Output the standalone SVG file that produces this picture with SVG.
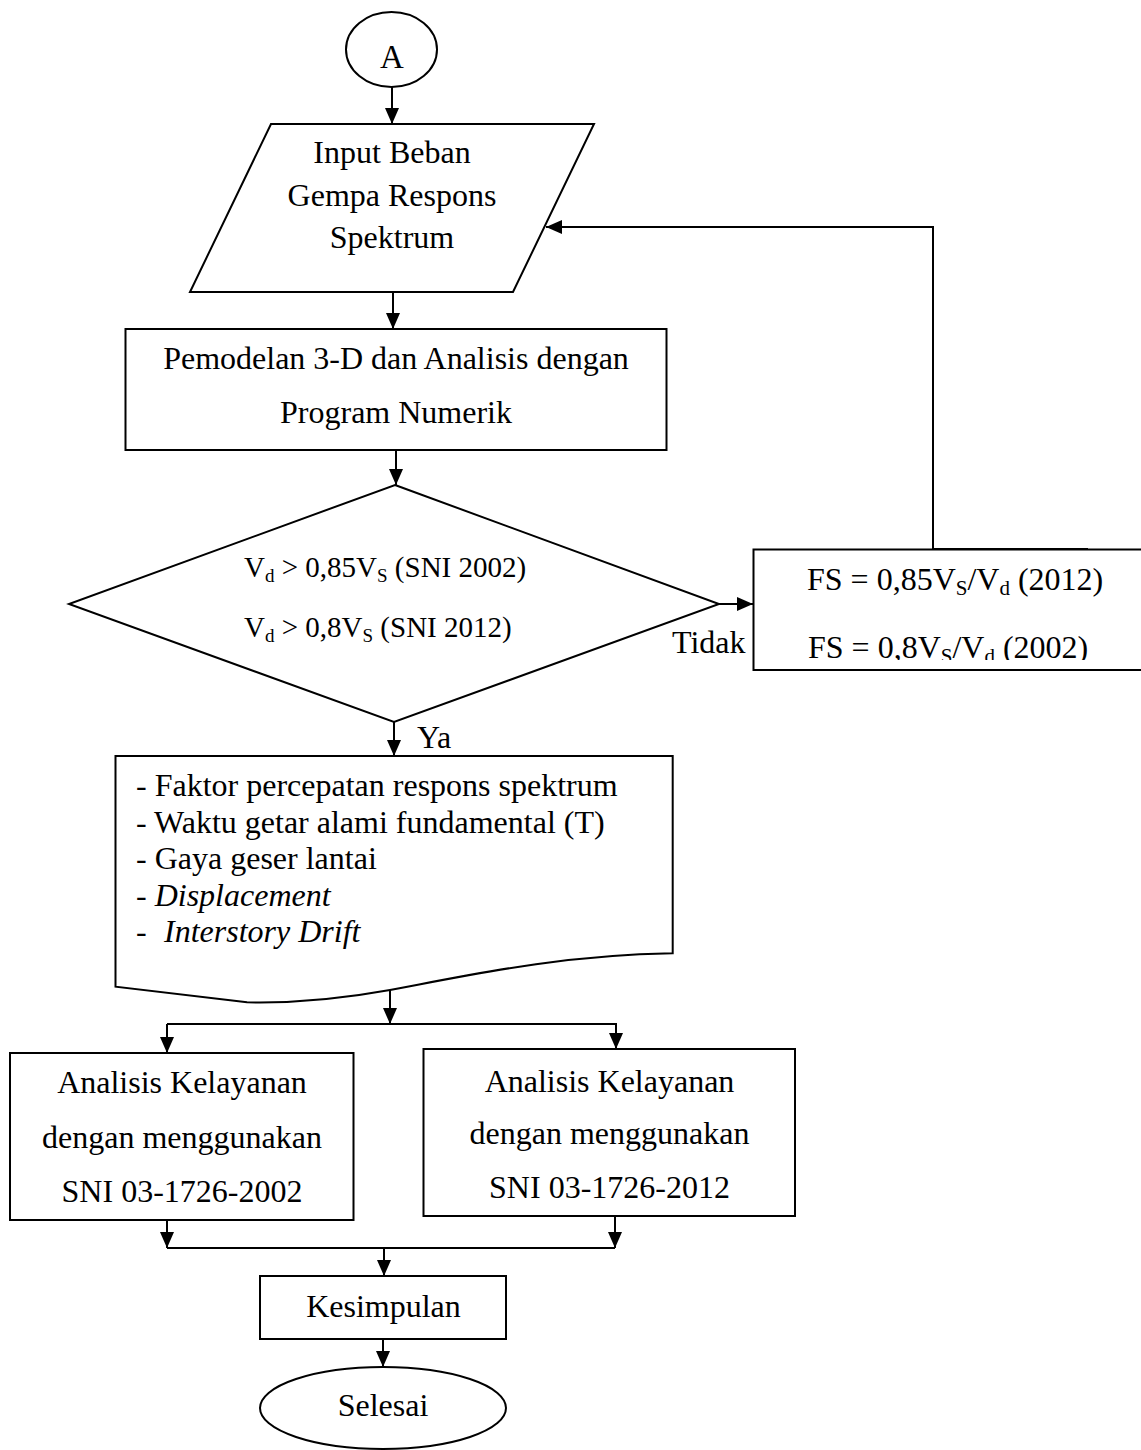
<svg xmlns="http://www.w3.org/2000/svg" width="1141" height="1450" viewBox="0 0 1141 1450">
  <style>
    .shape { fill: #ffffff; stroke: #000000; stroke-width: 2; }
    .wire { fill: none; stroke: #000000; stroke-width: 2; }
    .arrow { fill: none; stroke: #000000; stroke-width: 2; marker-end: url(#head); }
    text { font-family: "Liberation Serif", "Times New Roman", serif; font-size: 32px; fill: #000000; }
    .mid { text-anchor: middle; }
    .cond { font-size: 29px; }
    .cond .sub { font-size: 19px; }
    .fs { font-size: 32px; }
    .fs .sub { font-size: 21px; }
    .it { font-style: italic; }
  </style>
  <defs>
    <marker id="head" markerUnits="userSpaceOnUse" markerWidth="16" markerHeight="14" refX="16" refY="7" orient="auto">
      <path d="M0,0 L16,7 L0,14 Z" fill="#000000"/>
    </marker>
    <clipPath id="fs-clip">
      <rect x="754" y="550" width="390" height="110"/>
    </clipPath>
  </defs>

  <!-- connectors -->
  <g id="connectors">
    <path class="arrow" d="M392,87 V124"/>
    <path class="arrow" d="M393,292 V329"/>
    <path class="arrow" d="M396,450 V485"/>
    <path class="arrow" d="M719,604 H753"/>
    <path class="arrow" d="M1088,549 H933 V227 H546"/>
    <path class="arrow" d="M394,722 V756"/>
    <path class="arrow" d="M390,989 V1024"/>
    <path class="wire" d="M167,1024 H617"/>
    <path class="arrow" d="M167,1024 V1053"/>
    <path class="arrow" d="M616,1024 V1049"/>
    <path class="arrow" d="M167,1220 V1248"/>
    <path class="arrow" d="M615,1216 V1248"/>
    <path class="wire" d="M167,1248 H615"/>
    <path class="arrow" d="M384,1248 V1276"/>
    <path class="arrow" d="M383,1339 V1367"/>
  </g>

  <!-- start connector -->
  <g id="node-a">
    <ellipse class="shape" cx="391.5" cy="49.5" rx="45.5" ry="37.5"/>
    <text class="mid" x="392" y="68" style="font-size:33px">A</text>
  </g>

  <!-- input: response spectrum load -->
  <g id="node-input">
    <polygon class="shape" points="271,124 594,124 513,292 190,292"/>
    <text class="mid" x="392" y="163">Input Beban</text>
    <text class="mid" x="392" y="206">Gempa Respons</text>
    <text class="mid" x="392" y="248">Spektrum</text>
  </g>

  <!-- 3-D modelling -->
  <g id="node-model">
    <rect class="shape" x="125.5" y="329" width="541" height="121"/>
    <text class="mid" x="396" y="369">Pemodelan 3-D dan Analisis dengan</text>
    <text class="mid" x="396" y="423">Program Numerik</text>
  </g>

  <!-- base shear check -->
  <g id="node-check">
    <polygon class="shape" points="395,485 719,604 394,722 69,604"/>
    <text class="cond" x="244" y="577">V<tspan class="sub" dy="5">d</tspan><tspan dy="-5"> &gt; 0,85V</tspan><tspan class="sub" dy="5">S</tspan><tspan dy="-5"> (SNI 2002)</tspan></text>
    <text class="cond" x="244" y="637">V<tspan class="sub" dy="5">d</tspan><tspan dy="-5"> &gt; 0,8V</tspan><tspan class="sub" dy="5">S</tspan><tspan dy="-5"> (SNI 2012)</tspan></text>
    <text x="672" y="653">Tidak</text>
    <text x="417" y="748">Ya</text>
  </g>

  <!-- scale factor -->
  <g id="node-scale">
    <rect class="shape" x="753.5" y="549.5" width="392" height="120.5"/>
    <g clip-path="url(#fs-clip)">
      <text class="fs" x="807" y="590">FS = 0,85V<tspan class="sub" dy="5">S</tspan><tspan dy="-5">/V</tspan><tspan class="sub" dy="5">d</tspan><tspan dy="-5"> (2012)</tspan></text>
      <text class="fs" x="808" y="658">FS = 0,8V<tspan class="sub" dy="5">S</tspan><tspan dy="-5">/V</tspan><tspan class="sub" dy="5">d</tspan><tspan dy="-5"> (2002)</tspan></text>
    </g>
  </g>

  <!-- analysis output document -->
  <g id="node-output">
    <path class="shape" d="M115.5,756 H672.7 V953.3 C 560,955 470,975 390,990 C 330,1001 280,1003 247,1002.3 L115.5,986.7 Z"/>
    <text x="136" y="796">- Faktor percepatan respons spektrum</text>
    <text x="136" y="832.5">- Waktu getar alami fundamental (T)</text>
    <text x="136" y="869">- Gaya geser lantai</text>
    <text x="136" y="905.5">- <tspan class="it">Displacement</tspan></text>
    <text x="136" y="942">-<tspan class="it" x="164">Interstory Drift</tspan></text>
  </g>

  <!-- feasibility check, SNI 2002 -->
  <g id="node-sni2002">
    <rect class="shape" x="10" y="1053" width="343.5" height="167"/>
    <text class="mid" x="182" y="1093">Analisis Kelayanan</text>
    <text class="mid" x="182" y="1147.5">dengan menggunakan</text>
    <text class="mid" x="182" y="1202">SNI 03-1726-2002</text>
  </g>

  <!-- feasibility check, SNI 2012 -->
  <g id="node-sni2012">
    <rect class="shape" x="423.5" y="1049" width="371.5" height="167"/>
    <text class="mid" x="609.5" y="1092">Analisis Kelayanan</text>
    <text class="mid" x="609.5" y="1144">dengan menggunakan</text>
    <text class="mid" x="609.5" y="1198">SNI 03-1726-2012</text>
  </g>

  <!-- conclusion -->
  <g id="node-conclusion">
    <rect class="shape" x="260" y="1276" width="246" height="63"/>
    <text class="mid" x="383.5" y="1317">Kesimpulan</text>
  </g>

  <!-- end -->
  <g id="node-end">
    <ellipse class="shape" cx="383" cy="1408" rx="123" ry="41"/>
    <text class="mid" x="383" y="1416">Selesai</text>
  </g>
</svg>
